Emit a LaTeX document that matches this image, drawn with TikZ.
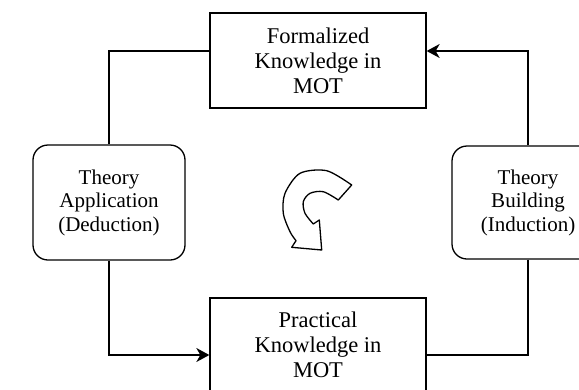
\documentclass[tikz,border=0pt]{standalone}
\usepackage{fontspec}
\setmainfont{Liberation Serif}
\usetikzlibrary{arrows.meta}
\begin{document}
\begin{tikzpicture}[x=1pt,y=-1pt,
  mainbox/.style={draw,line width=1.3pt,inner sep=0pt,minimum width=216pt,align=center,
    font=\fontsize{22.5pt}{25pt}\selectfont},
  sidebox/.style={draw,line width=1.3pt,inner sep=0pt,rounded corners=15pt,minimum width=152pt,align=center,
    font=\fontsize{21pt}{23.5pt}\selectfont},
  conn/.style={line width=1.4pt},
  arr/.style={conn,-{Stealth[length=13pt,width=14pt,inset=4pt]}}]
\useasboundingbox (0,0) rectangle (579,389);
\node[mainbox,minimum height=95pt] (top) at (318,60.5) {Formalized\\Knowledge in\\MOT};
\node[mainbox,minimum height=94pt] (bottom) at (318,345) {Practical\\Knowledge in\\MOT};
\node[sidebox,minimum height=115pt] (left) at (109,202.5) {Theory\\Application\\(Deduction)};
\node[sidebox,minimum height=113pt] (right) at (528,202.5) {Theory\\Building\\(Induction)};
\draw[conn] ([yshift=9.5pt]top.west) -| (left.north);
\draw[arr] (left.south) |- ([yshift=-10pt]bottom.west);
\draw[conn] (right.south) |- ([yshift=-10pt]bottom.east);
\draw[arr] (right.north) |- ([yshift=9.5pt]top.east);
\draw[line width=1.3pt,line join=round]
  plot[smooth] coordinates {(351.7,185) (326.7,170.7) (300,173.3) (285,193.3) (283.3,213.3) (290,231.7) (296,240.7)}
  -- (291.7,247.3) -- (321.7,250) -- (319.3,220)
  -- plot[smooth] coordinates {(313.3,224) (305,213.3) (303.3,201.7) (310,193.3) (323.3,191.7) (338.3,200)}
  -- cycle;
\end{tikzpicture}
\end{document}
